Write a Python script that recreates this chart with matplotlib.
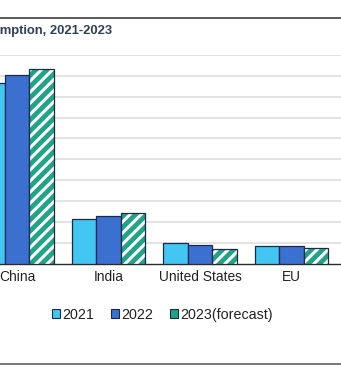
import matplotlib
matplotlib.use("Agg")
import matplotlib.pyplot as plt
from matplotlib.lines import Line2D
from matplotlib.patches import Patch
import numpy as np

categories = ["China", "India", "United States", "EU"]
series_names = ["2021", "2022", "2023(forecast)"]
v2021 = [4320, 1065, 490, 430]
v2022 = [4520, 1145, 450, 430]
v2023 = [4670, 1200, 350, 370]
title = "Coal consumption, 2021-2023"

c2021 = "#43c6f1"
c2022 = "#3b6fd0"
c2023 = "#1fa488"
edge = "#1b2a48"

plt.rcParams["font.family"] = ["Liberation Sans", "DejaVu Sans"]
plt.rcParams["hatch.linewidth"] = 2.2

W, H = 341, 374
fig = plt.figure(figsize=(W / 100, H / 100), dpi=100)
fig.patch.set_facecolor("white")

# axes geometry in pixels
base_px = 263.5
top_px = 55.0
ax = fig.add_axes([0, 1 - base_px / H, 1, (base_px - top_px) / H])

x0_px, step_px = 17.2, 91.5
ax.set_xlim(-x0_px / step_px, (W - x0_px) / step_px)
ax.set_ylim(0, 5000)

x = np.arange(len(categories))
w = 24.5 / step_px
ax.bar(x - w, v2021, w, color=c2021, edgecolor=edge, linewidth=0.9, zorder=3)
ax.bar(x, v2022, w, color=c2022, edgecolor=edge, linewidth=0.9, zorder=3)
ax.bar(x + w, v2023, w, color=c2023, edgecolor="white", linewidth=0, hatch="///", zorder=3)
ax.bar(x + w, v2023, w, fill=False, edgecolor=edge, linewidth=0.9, zorder=4)

ax.set_yticks(np.arange(500, 5001, 500))
ax.yaxis.grid(True, color="#e0e0e0", linewidth=1.3)
ax.set_axisbelow(True)
ax.tick_params(axis="y", left=False, labelleft=False)
ax.set_xticks(x)
ax.set_xticklabels(categories, fontsize=9.9, color="#222222")
ax.tick_params(axis="x", length=0, pad=5)
for s in ["left", "right", "top"]:
    ax.spines[s].set_visible(False)
ax.spines["bottom"].set_color("#2a2a2a")
ax.spines["bottom"].set_linewidth(1.0)

fig.text(112 / W, 1 - 34 / H, title, ha="right", va="baseline",
         fontsize=9.4, fontweight="bold", color="#2f3f58")

fig.add_artist(Line2D([0, 1], [1 - 17.5 / H] * 2, color="#5a5a5a", linewidth=1.4))
fig.add_artist(Line2D([0, 1], [1 - 364 / H] * 2, color="#777777", linewidth=1.4))

handles = [
    Patch(facecolor=c2021, edgecolor=edge, linewidth=0.8),
    Patch(facecolor=c2022, edgecolor=edge, linewidth=0.8),
    Patch(facecolor=c2023, edgecolor=edge, linewidth=0.8),
]
fig.legend(handles, series_names, loc="center", bbox_to_anchor=(162.5 / W, 1 - 314.7 / H),
           ncol=3, frameon=False, fontsize=10.3, handlelength=0.55, handleheight=0.55,
           handletextpad=0.15, columnspacing=1.2, labelcolor="#222222")

fig.savefig("out.png", dpi=100, facecolor="white")
